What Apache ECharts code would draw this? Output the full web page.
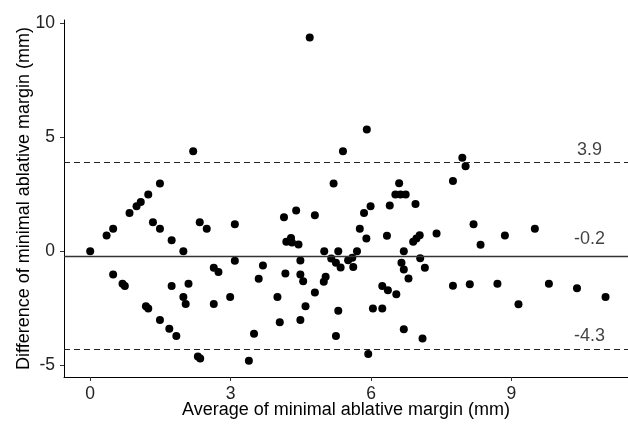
<!DOCTYPE html>
<html>
<head>
<meta charset="utf-8">
<script src="https://cdn.jsdelivr.net/npm/echarts@6/dist/echarts.min.js"></script>
<style>
html,body{margin:0;padding:0;background:#fff;}
#chart{width:628px;height:426px;}
</style>
</head>
<body>
<div id="chart"></div>
<script>
// Average of the two measurements (x)
const avgValues = [
  0.00,0.35,0.49,0.84,0.99,1.08,1.24,1.49,1.34,1.49,1.74,1.99,2.20,2.34,2.49,3.09,
  0.49,0.69,0.74,1.19,1.24,1.49,1.69,1.84,1.74,1.99,2.04,2.10,2.30,2.35,2.64,2.74,
  2.64,2.99,3.09,3.39,3.50,3.60,3.69,
  4.00,4.05,4.14,4.40,4.80,4.19,4.29,4.31,4.45,4.49,4.17,4.49,4.55,4.49,4.60,4.69,
  4.80,5.00,5.15,5.25,5.35,5.30,5.03,4.99,5.20,5.40,5.25,5.30,5.51,5.60,5.62,5.70,
  5.76,5.85,5.90,5.91,5.99,5.94,6.04,6.24,6.24,6.36,6.54,6.34,6.40,6.60,6.52,6.63,
  6.74,6.95,6.70,6.65,6.70,6.80,6.70,6.90,6.97,7.04,7.05,7.15,7.10,7.40,
  7.75,7.95,8.02,7.75,8.11,8.19,8.34,8.70,8.86,9.15,9.50,9.80,10.40,11.01
];
// Difference of the two measurements (y)
const diffValues = [
  0.00,0.69,0.98,1.68,1.97,2.16,2.48,2.97,1.27,0.98,0.48,0.00,4.38,1.27,0.98,1.18,
  -1.02,-1.42,-1.52,-2.41,-2.51,-3.01,-3.40,-3.71,-1.52,-2.01,-2.31,-1.43,-4.61,-4.70,-0.72,-0.91,
  -2.31,-2.01,-0.42,-4.80,-3.61,-1.21,-0.63,
  -2.01,-3.11,1.49,1.78,1.58,0.41,0.58,0.38,0.29,-0.41,-0.98,-1.02,-1.31,-3.01,-2.41,9.36,
  -1.81,0.00,-0.32,-0.50,-0.71,0.00,-1.12,-1.34,2.97,4.38,-3.71,-2.61,-0.39,-0.29,-0.69,0.00,
  0.99,1.68,0.56,5.33,1.97,-4.50,-2.51,-1.52,-2.51,-1.71,-1.88,0.68,2.00,2.98,2.48,2.48,
  2.48,2.07,0.00,-0.50,-0.80,-1.20,-3.42,0.41,0.56,0.70,-0.31,-0.72,-3.82,0.78,
  3.08,4.09,3.72,-1.51,-1.45,1.18,0.28,-1.42,0.69,-2.32,0.98,-1.42,-1.62,-2.00
];
const meanDiff = -0.2;
const upperLimit = 3.9;
const lowerLimit = -4.3;
const xTicks = [0, 3, 6, 9];
const yTicks = [-5, 0, 5, 10];

const xMin = -0.56, xMax = 11.49, yMin = -5.51, yMax = 10.13;
const points = avgValues.map((v, i) => [v, diffValues[i]]);
const labelX = xMax - 0.82;
const limitLabels = [
  { value: [labelX, upperLimit] },
  { value: [labelX, meanDiff], label: { distance: 8 } },
  { value: [labelX, lowerLimit], label: { distance: 4 } }
];

const font = '"Liberation Sans", Arial, Helvetica, sans-serif';
const chart = echarts.init(document.getElementById('chart'));
chart.setOption({
  animation: false,
  backgroundColor: '#ffffff',
  grid: { left: 64, right: 0, top: 20, bottom: 49, containLabel: false, outerBoundsMode: 'none' },
  xAxis: {
    type: 'value', min: xMin, max: xMax,
    name: 'Average of minimal ablative margin (mm)',
    nameLocation: 'middle', nameGap: 24, nameMoveOverlap: false,
    nameTextStyle: { fontFamily: font, fontSize: 18, color: '#000' },
    axisLine: { show: true, onZero: false, lineStyle: { color: '#000', width: 1 } },
    axisTick: { show: true, length: 4, customValues: xTicks, lineStyle: { color: '#333' } },
    axisLabel: { customValues: xTicks, margin: 8, fontFamily: font, fontSize: 17.5, color: '#222' },
    splitLine: { show: false }
  },
  yAxis: {
    type: 'value', min: yMin, max: yMax,
    name: 'Difference of minimal ablative margin (mm)',
    nameLocation: 'middle', nameGap: 31, nameMoveOverlap: false,
    nameTextStyle: { fontFamily: font, fontSize: 18, color: '#000' },
    axisLine: { show: true, onZero: false, lineStyle: { color: '#000', width: 1 } },
    axisTick: { show: true, length: 4, customValues: yTicks, lineStyle: { color: '#333' } },
    axisLabel: { customValues: yTicks, margin: 9, fontFamily: font, fontSize: 17.5, color: '#222' },
    splitLine: { show: false }
  },
  series: [
    {
      type: 'scatter',
      data: points,
      symbolSize: 8,
      itemStyle: { color: '#000', opacity: 1 },
      markLine: {
        silent: true,
        symbol: 'none',
        label: { show: false },
        data: [
          { yAxis: upperLimit, lineStyle: { type: [6, 4], color: '#222', width: 1 } },
          { yAxis: meanDiff, lineStyle: { type: 'solid', color: '#333', width: 1.4 } },
          { yAxis: lowerLimit, lineStyle: { type: [6, 4], color: '#222', width: 1 } }
        ]
      }
    },
    {
      type: 'scatter',
      data: limitLabels,
      symbolSize: 0,
      silent: true,
      label: {
        show: true, position: 'top', distance: 3,
        formatter: p => p.value[1].toFixed(1),
        fontFamily: font, fontSize: 18, color: '#111'
      }
    }
  ]
});
</script>
</body>
</html>
